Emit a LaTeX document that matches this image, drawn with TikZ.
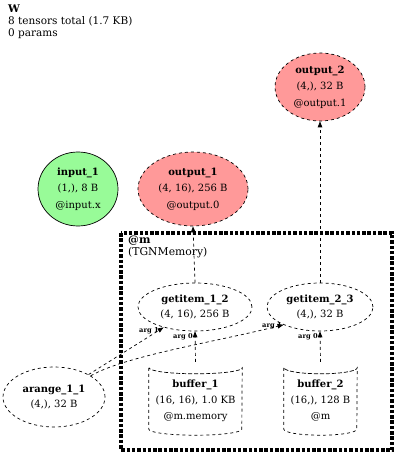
\documentclass[tikz,border=0pt]{standalone}
\usepackage{fontspec}
\setmainfont{DejaVu Serif}
\usetikzlibrary{arrows.meta,shapes.geometric}
\definecolor{outred}{HTML}{FF9999}
\definecolor{ingreen}{HTML}{98FB98}
\begin{document}
\begin{tikzpicture}[x=1pt,y=-1pt,
  tnode/.style={ellipse, draw=black, dashed, line width=0.7pt, inner sep=0pt, align=center,
    font=\fontsize{10}{16.5}\selectfont},
  innode/.style={tnode, fill=ingreen, solid},
  outnode/.style={tnode, fill=outred},
  conn/.style={draw=black, dashed, line width=0.7pt, -{Triangle[length=6pt,width=4.5pt]}},
  arglab/.style={font=\fontsize{6.7}{7}\selectfont\bfseries, inner sep=0pt},
  title/.style={font=\fontsize{10.5}{12}\selectfont, align=left, inner sep=0pt, anchor=north west},
]
\useasboundingbox (0,0) rectangle (400,462);

\node[title] (ttl) at (8,5) {\textbf{W}\\8 tensors total (1.7 KB)\\0 params};

% cluster
\draw[line width=3.8pt, dash pattern=on 3.5pt off 1.8pt] (121,233) rectangle (392,450);
\node[title, font=\fontsize{10.8}{12}\selectfont] (clab) at (128,236) {\textbf{@m}\\(TGNMemory)};

\node[outnode, minimum width=90pt, minimum height=68pt] (out2) at (320,87)
  {\textbf{output\_2}\\(4,), 32 B\\@output.1};
\node[innode, minimum width=80pt, minimum height=74pt] (in1) at (78,189)
  {\textbf{input\_1}\\(1,), 8 B\\@input.x};
\node[outnode, minimum width=110pt, minimum height=74pt] (out1) at (193,189)
  {\textbf{output\_1}\\(4, 16), 256 B\\@output.0};

\node[tnode, minimum width=114pt, minimum height=48pt] (g12) at (195,307)
  {\textbf{getitem\_1\_2}\\[-2pt](4, 16), 256 B};
\node[tnode, minimum width=106pt, minimum height=48pt] (g23) at (320,307)
  {\textbf{getitem\_2\_3}\\[-2pt](4,), 32 B};
\node[tnode, minimum width=102pt, minimum height=60pt] (ar) at (54,397)
  {\textbf{arange\_1\_1}\\[-2pt](4,), 32 B};

% cylinders
\node[rectangle, minimum width=93pt, minimum height=73pt, inner sep=0pt, align=center,
  font=\fontsize{10}{16}\selectfont] (b1) at (195.5,398.5)
  {\\[-4pt]\textbf{buffer\_1}\\(16, 16), 1.0 KB\\@m.memory};
\node[rectangle, minimum width=73pt, minimum height=73pt, inner sep=0pt, align=center,
  font=\fontsize{10}{16}\selectfont] (b2) at (320.5,398.5)
  {\\[-4pt]\textbf{buffer\_2}\\(16,), 128 B\\@m};
\foreach \c/\w in {b1/46.5, b2/36.5}{
  \draw[dashed, line width=0.7pt] ([yshift=-6pt]\c.north west) -- ([yshift=6pt]\c.south west)
    arc[start angle=180, end angle=360, x radius=\w pt, y radius=6pt]
    -- ([yshift=-6pt]\c.north east)
    arc[start angle=0, end angle=-180, x radius=\w pt, y radius=6pt]
    arc[start angle=180, end angle=360, x radius=\w pt, y radius=6pt];
}

% edges
\draw[conn] (g12.north) -- (out1.south);
\draw[conn] (g23.north) -- (out2.south);
\draw[conn] (b1.north) -- (g12.south);
\draw[conn] (b2.north) -- (g23.south);
\draw[conn] (ar.33) -- (g12.213);
\draw[conn] (ar.30) .. controls (125,356) and (215,342) .. (g23.206);

\node[arglab] (l1) at (149,331) {arg 1};
\node[arglab] (l2) at (183,337) {arg 0};
\node[arglab] (l3) at (272,326) {arg 1};
\node[arglab] (l4) at (308,337) {arg 0};
\end{tikzpicture}
\end{document}
